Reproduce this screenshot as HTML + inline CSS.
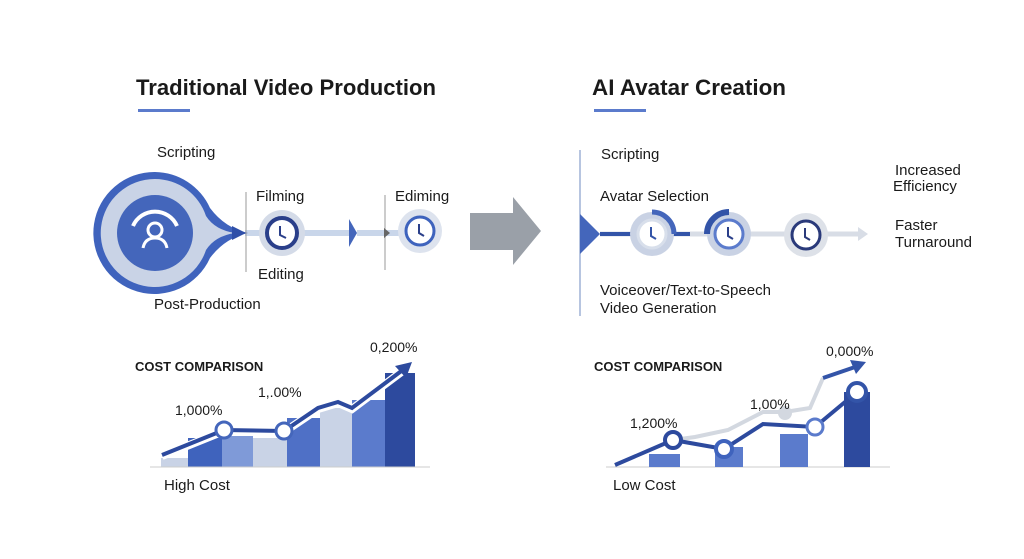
<!DOCTYPE html>
<html><head><meta charset="utf-8"><style>
html,body{margin:0;padding:0;background:#fff;}
svg{display:block;}
text{font-family:"Liberation Sans",sans-serif;fill:#1a1a1a;}
</style></head><body>
<svg width="1024" height="559" viewBox="0 0 1024 559" xmlns="http://www.w3.org/2000/svg">
<rect width="1024" height="559" fill="#fff"/>
<!-- Titles -->
<text x="136" y="95" font-size="22" font-weight="bold" textLength="300" lengthAdjust="spacingAndGlyphs" fill="#111">Traditional Video Production</text>
<rect x="138" y="109" width="52" height="3" fill="#5b7bcc"/>
<text x="592" y="95" font-size="22" font-weight="bold" textLength="194" lengthAdjust="spacingAndGlyphs" fill="#111">AI Avatar Creation</text>
<rect x="594" y="109" width="52" height="3" fill="#5b7bcc"/>

<!-- Left flow -->
<line x1="245" y1="233" x2="350" y2="233" stroke="#c9d6ea" stroke-width="6"/>
<line x1="357" y1="233" x2="400" y2="233" stroke="#c9d6ea" stroke-width="6"/>
<path d="M155 172 A61 61 0 1 0 210 258 Q225 238 248 233 Q225 228 210 208 A61 61 0 0 0 155 172Z" fill="#3f63bd"/>
<path d="M155 179 A54 54 0 1 0 206 250 Q215 236 235 233 Q215 230 206 216 A54 54 0 0 0 155 179Z" fill="#c9d3e6"/>
<circle cx="155" cy="233" r="38" fill="#4466bb"/>
<path d="M133 226 A24 24 0 0 1 177 226" fill="none" stroke="#fff" stroke-width="4"/>
<circle cx="155" cy="230" r="7" fill="none" stroke="#fff" stroke-width="3"/>
<path d="M143 248 Q145 238 155 238 Q165 238 167 248" fill="none" stroke="#fff" stroke-width="3"/>
<polygon points="232,226 246,233 232,240" fill="#2f4fa8"/>
<line x1="246" y1="192" x2="246" y2="272" stroke="#999" stroke-width="1"/>
<polygon points="349,219 357,233 349,247" fill="#4466bb"/>
<line x1="385" y1="195" x2="385" y2="270" stroke="#999" stroke-width="1"/>
<polygon points="384,228 390,233 384,238" fill="#666"/>
<g>
<circle cx="282" cy="233" r="23" fill="#d4dbe8"/>
<circle cx="282" cy="233" r="15" fill="#fff" stroke="#2a3f8a" stroke-width="4"/>
<path d="M280 226 V235 L286 238" fill="none" stroke="#2a3f8a" stroke-width="2"/>
</g>
<g>
<circle cx="420" cy="231" r="22" fill="#dde3ee"/>
<circle cx="420" cy="231" r="14" fill="#fff" stroke="#3e63bd" stroke-width="3"/>
<path d="M419 224 V233 L424 236" fill="none" stroke="#2a3f8a" stroke-width="2"/>
</g>
<text x="157" y="157" font-size="15">Scripting</text>
<text x="256" y="201" font-size="15">Filming</text>
<text x="258" y="279" font-size="15">Editing</text>
<text x="154" y="309" font-size="15">Post-Production</text>
<text x="395" y="201" font-size="15">Ediming</text>

<!-- Gray arrow -->
<polygon points="470,213 513,213 513,197 541,231 513,265 513,250 470,250" fill="#9aa0a8"/>

<!-- Right flow -->
<line x1="580" y1="150" x2="580" y2="316" stroke="#9fb2d6" stroke-width="1.5"/>
<line x1="600" y1="234" x2="862" y2="234" stroke="#d8dde6" stroke-width="5"/>
<line x1="600" y1="234" x2="690" y2="234" stroke="#3354a8" stroke-width="4"/>
<polygon points="858,227 868,234 858,241" fill="#d8dde6"/>
<polygon points="580,214 600,234 580,254" fill="#4466bb"/>
<g>
<circle cx="652" cy="234" r="22" fill="#c9d2e4"/>
<path d="M652 212 A22 22 0 0 1 674 234" fill="none" stroke="#4466bb" stroke-width="5"/>
<circle cx="652" cy="234" r="14" fill="#fff" stroke="#d8dfeb" stroke-width="3"/>
<path d="M651 227 V236 L656 239" fill="none" stroke="#3354a8" stroke-width="2"/>
</g>
<g>
<circle cx="729" cy="234" r="22" fill="#c9d2e4"/>
<path d="M707 234 A22 22 0 0 1 729 212" fill="none" stroke="#3354a8" stroke-width="6"/>
<circle cx="729" cy="234" r="14" fill="#fff" stroke="#5b7bcc" stroke-width="3"/>
<path d="M728 227 V236 L733 239" fill="none" stroke="#2a3f8a" stroke-width="2"/>
</g>
<g>
<circle cx="806" cy="235" r="22" fill="#dde1e8"/>
<circle cx="806" cy="235" r="14" fill="#fff" stroke="#2a3a7a" stroke-width="3"/>
<path d="M805 228 V237 L810 240" fill="none" stroke="#2a3a7a" stroke-width="2"/>
</g>
<text x="601" y="159" font-size="15">Scripting</text>
<text x="600" y="201" font-size="15">Avatar Selection</text>
<text x="600" y="295" font-size="15">Voiceover/Text-to-Speech</text>
<text x="600" y="313" font-size="15">Video Generation</text>
<text x="895" y="175" font-size="15">Increased</text>
<text x="893" y="191" font-size="15">Efficiency</text>
<text x="895" y="230" font-size="15">Faster</text>
<text x="895" y="247" font-size="15">Turnaround</text>

<!-- Left chart -->
<text x="135" y="371" font-size="13" font-weight="bold" fill="#111">COST COMPARISON</text>
<rect x="161" y="458" width="27" height="9" fill="#c9d3e6"/>
<rect x="188" y="438" width="34" height="29" fill="#3f63bd"/>
<rect x="222" y="436" width="31" height="31" fill="#7f9ad8"/>
<rect x="253" y="438" width="34" height="29" fill="#c9d3e6"/>
<rect x="287" y="418" width="33" height="49" fill="#4f70c6"/>
<rect x="320" y="408" width="32" height="59" fill="#c9d3e6"/>
<rect x="352" y="400" width="33" height="67" fill="#5b7bcc"/>
<rect x="385" y="373" width="30" height="94" fill="#2d4a9e"/>
<line x1="150" y1="467" x2="430" y2="467" stroke="#ccc" stroke-width="1"/>
<polyline points="162,456 224,431 284,432 318,409 338,403 352,409 404,370" fill="none" stroke="#fff" stroke-width="8"/>
<polyline points="162,455 224,430 284,431 318,408 338,402 352,408 404,369" fill="none" stroke="#2d4a9e" stroke-width="4"/>
<polygon points="412,362 395,366 406,378" fill="#2d4a9e"/>
<circle cx="224" cy="430" r="8" fill="#fff" stroke="#4466bb" stroke-width="3"/>
<circle cx="284" cy="431" r="8" fill="#fff" stroke="#4466bb" stroke-width="3"/>
<text x="175" y="415" font-size="14">1,000%</text>
<text x="258" y="397" font-size="14">1,.00%</text>
<text x="370" y="352" font-size="14">0,200%</text>
<text x="164" y="490" font-size="15">High Cost</text>

<!-- Right chart -->
<text x="594" y="371" font-size="13" font-weight="bold" fill="#111">COST COMPARISON</text>
<line x1="606" y1="467" x2="890" y2="467" stroke="#ccc" stroke-width="1"/>
<rect x="649" y="454" width="31" height="13" fill="#5b7bcc"/>
<rect x="715" y="447" width="28" height="20" fill="#5b7bcc"/>
<rect x="780" y="434" width="28" height="33" fill="#5b7bcc"/>
<rect x="844" y="392" width="26" height="75" fill="#2d4a9e"/>
<polyline points="673,440 695,437 728,430 763,412 785,412 810,408 823,378" fill="none" stroke="#d3d8e0" stroke-width="4"/>
<circle cx="785" cy="413" r="7" fill="#d3d8e0"/>
<polyline points="823,378 858,366" fill="none" stroke="#3354a8" stroke-width="4"/>
<polygon points="866,362 850,360 856,374" fill="#3354a8"/>
<polyline points="615,465 673,440 724,449 763,424 815,427 857,392" fill="none" stroke="#2d4a9e" stroke-width="4"/>
<circle cx="673" cy="440" r="8" fill="#fff" stroke="#2d4a9e" stroke-width="4"/>
<circle cx="724" cy="449" r="8" fill="#fff" stroke="#3f63bd" stroke-width="4"/>
<circle cx="815" cy="427" r="8" fill="#fff" stroke="#5b7bcc" stroke-width="3"/>
<circle cx="857" cy="392" r="9" fill="#fff" stroke="#3354a8" stroke-width="4"/>
<text x="630" y="428" font-size="14">1,200%</text>
<text x="750" y="409" font-size="14">1,00%</text>
<text x="826" y="356" font-size="14">0,000%</text>
<text x="613" y="490" font-size="15">Low Cost</text>
</svg>
</body></html>
